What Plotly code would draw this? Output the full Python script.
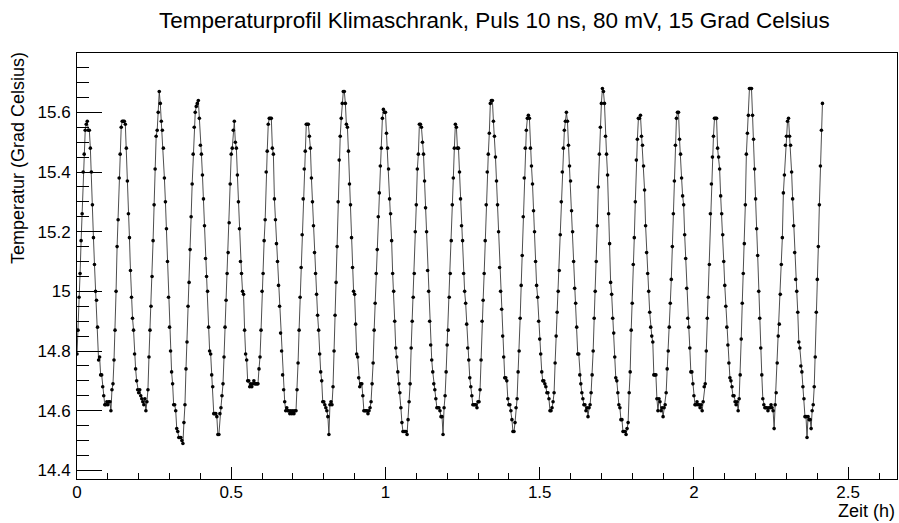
import plotly.graph_objects as go

# Climate chamber temperature log, one reading every 12 s
SAMPLE_STEP_H = 12.0 / 3600.0

temperature_c = [
    14.79, 14.87, 14.98, 15.06, 15.17, 15.26, 15.40, 15.46, 15.54, 15.56,
    15.57, 15.54, 15.54, 15.48, 15.40, 15.29, 15.18, 15.09, 15.00, 14.97,
    14.88, 14.77, 14.78, 14.72, 14.72, 14.68, 14.65, 14.62, 14.62, 14.63,
    14.62, 14.63, 14.63, 14.60, 14.67, 14.69, 14.77, 14.87, 15.00, 15.15,
    15.24, 15.38, 15.46, 15.55, 15.57, 15.57, 15.57, 15.56, 15.48, 15.37,
    15.26, 15.18, 15.07, 14.98, 14.91, 14.87, 14.79, 14.74, 14.70, 14.67,
    14.66, 14.67, 14.65, 14.64, 14.63, 14.62, 14.64, 14.60, 14.63, 14.67,
    14.78, 14.87, 14.95, 15.05, 15.17, 15.29, 15.41, 15.52, 15.54, 15.60,
    15.67, 15.63, 15.57, 15.54, 15.48, 15.38, 15.30, 15.21, 15.10, 14.98,
    14.88, 14.80, 14.73, 14.69, 14.62, 14.62, 14.60, 14.54, 14.53, 14.51,
    14.51, 14.51, 14.50, 14.49, 14.56, 14.62, 14.74, 14.83, 14.95, 15.03,
    15.14, 15.25, 15.36, 15.46, 15.55, 15.60, 15.62, 15.63, 15.64, 15.58,
    15.49, 15.46, 15.39, 15.31, 15.22, 15.11, 15.05, 15.00, 14.88, 14.80,
    14.79, 14.72, 14.68, 14.59, 14.59, 14.59, 14.58, 14.52, 14.52, 14.59,
    14.61, 14.65, 14.69, 14.78, 14.88, 14.97, 15.06, 15.13, 15.23, 15.36,
    15.46, 15.48, 15.54, 15.57, 15.50, 15.48, 15.39, 15.30, 15.21, 15.10,
    15.06, 15.00, 14.99, 14.87, 14.79, 14.77, 14.70, 14.70, 14.68, 14.69,
    14.68, 14.69, 14.70, 14.69, 14.69, 14.69, 14.69, 14.74, 14.78, 14.87,
    15.00, 15.06, 15.17, 15.24, 15.40, 15.47, 15.56, 15.58, 15.58, 15.58,
    15.48, 15.46, 15.31, 15.24, 15.16, 15.10, 15.02, 14.95, 14.86, 14.80,
    14.72, 14.67, 14.63, 14.60, 14.61, 14.60, 14.60, 14.59, 14.60, 14.59,
    14.60, 14.59, 14.60, 14.60, 14.67, 14.76, 14.87, 14.98, 15.08, 15.19,
    15.31, 15.41, 15.47, 15.56, 15.56, 15.56, 15.52, 15.48, 15.38, 15.30,
    15.22, 15.13, 15.06, 14.99, 14.92, 14.87, 14.79, 14.73, 14.70, 14.63,
    14.63, 14.62, 14.61, 14.60, 14.58, 14.52, 14.62, 14.63, 14.62, 14.68,
    14.80, 14.92, 15.03, 15.15, 15.30, 15.44, 15.52, 15.58, 15.63, 15.67,
    15.67, 15.63, 15.56, 15.55, 15.47, 15.36, 15.29, 15.18, 15.08, 15.00,
    14.99, 14.89, 14.79, 14.78, 14.71, 14.68, 14.69, 14.69, 14.65, 14.60,
    14.60, 14.60, 14.60, 14.59, 14.60, 14.61, 14.63, 14.69, 14.76, 14.87,
    14.96, 15.06, 15.14, 15.25, 15.33, 15.42, 15.48, 15.58, 15.61, 15.60,
    15.60, 15.53, 15.48, 15.41, 15.31, 15.26, 15.17, 15.06, 15.00, 14.90,
    14.81, 14.78, 14.73, 14.69, 14.66, 14.61, 14.56, 14.53, 14.53, 14.53,
    14.53, 14.52, 14.57, 14.63, 14.69, 14.81, 14.90, 14.98, 15.06, 15.20,
    15.29, 15.41, 15.46, 15.56, 15.56, 15.55, 15.50, 15.46, 15.37, 15.28,
    15.20, 15.07, 15.00, 14.90, 14.82, 14.77, 14.73, 14.69, 14.67, 14.64,
    14.61, 14.61, 14.61, 14.60, 14.58, 14.58, 14.52, 14.61, 14.65, 14.73,
    14.82, 14.87, 14.98, 15.06, 15.17, 15.29, 15.38, 15.48, 15.56, 15.55,
    15.48, 15.48, 15.40, 15.31, 15.22, 15.17, 15.06, 15.00, 14.96, 14.89,
    14.81, 14.77, 14.71, 14.68, 14.65, 14.62, 14.62, 14.62, 14.62, 14.61,
    14.63, 14.63, 14.67, 14.77, 14.90, 14.97, 15.06, 15.17, 15.29, 15.40,
    15.46, 15.53, 15.63, 15.64, 15.64, 15.57, 15.52, 15.45, 15.37, 15.29,
    15.20, 15.08, 15.00, 14.94, 14.85, 14.78, 14.71, 14.71, 14.70, 14.64,
    14.62, 14.62, 14.60, 14.57, 14.53, 14.53, 14.56, 14.61, 14.64, 14.73,
    14.80, 14.91, 15.02, 15.12, 15.25, 15.38, 15.48, 15.54, 15.58, 15.59,
    15.58, 15.48, 15.42, 15.36, 15.27, 15.20, 15.10, 15.02, 14.98, 14.90,
    14.84, 14.79, 14.73, 14.70, 14.70, 14.69, 14.68, 14.66, 14.66, 14.64,
    14.60, 14.60, 14.61, 14.63, 14.66, 14.76, 14.85, 14.93, 15.00, 15.07,
    15.19, 15.30, 15.40, 15.48, 15.54, 15.57, 15.60, 15.57, 15.49, 15.42,
    15.37, 15.27, 15.20, 15.10, 15.01, 14.96, 14.88, 14.79, 14.79, 14.72,
    14.69, 14.66, 14.64, 14.62, 14.62, 14.60, 14.61, 14.58, 14.61, 14.62,
    14.66, 14.72, 14.80, 14.91, 15.00, 15.10, 15.22, 15.35, 15.46, 15.55,
    15.63, 15.68, 15.67, 15.63, 15.52, 15.46, 15.39, 15.26, 15.16, 15.03,
    14.99, 14.91, 14.86, 14.78, 14.71, 14.70, 14.66, 14.62, 14.61, 14.57,
    14.57, 14.53, 14.53, 14.53, 14.52, 14.54, 14.56, 14.66, 14.73, 14.87,
    14.96, 15.09, 15.18, 15.30, 15.44, 15.51, 15.58, 15.58, 15.59, 15.52,
    15.49, 15.42, 15.34, 15.22, 15.13, 15.06, 15.00, 14.93, 14.88, 14.85,
    14.83, 14.72, 14.72, 14.72, 14.64, 14.60, 14.64, 14.63, 14.60, 14.61,
    14.58, 14.61, 14.62, 14.66, 14.74, 14.80, 14.88, 14.96, 15.04, 15.15,
    15.26, 15.37, 15.49, 15.58, 15.60, 15.60, 15.51, 15.46, 15.38, 15.32,
    15.29, 15.19, 15.11, 15.01, 14.91, 14.88, 14.81, 14.73, 14.73, 14.69,
    14.65, 14.62, 14.62, 14.63, 14.62, 14.62, 14.61, 14.62, 14.60, 14.63,
    14.68, 14.69, 14.80, 14.91, 14.98, 15.09, 15.26, 15.36, 15.45, 15.52,
    15.58, 15.58, 15.58, 15.48, 15.45, 15.41, 15.32, 15.26, 15.19, 15.10,
    15.02, 14.95, 14.88, 14.82, 14.76, 14.71, 14.70, 14.68, 14.65, 14.65,
    14.63, 14.62, 14.63, 14.60, 14.64, 14.72, 14.84, 14.96, 15.06, 15.16,
    15.29, 15.46, 15.53, 15.59, 15.68, 15.68, 15.68, 15.59, 15.51, 15.41,
    15.31, 15.21, 15.12, 15.00, 14.91, 14.81, 14.72, 14.64, 14.62, 14.61,
    14.61, 14.61, 14.60, 14.61, 14.61, 14.62, 14.61, 14.60, 14.54, 14.62,
    14.66, 14.76, 14.85, 14.89, 14.99, 15.09, 15.18, 15.33, 15.39, 15.49,
    15.52, 15.57, 15.58, 15.52, 15.49, 15.40, 15.31, 15.22, 15.13, 15.04,
    15.00, 14.93, 14.83, 14.81, 14.75, 14.73, 14.68, 14.64, 14.58, 14.58,
    14.51, 14.58, 14.57, 14.57, 14.54, 14.60, 14.62, 14.68, 14.78, 14.93,
    15.04, 15.15, 15.29, 15.42, 15.54, 15.63,
]

time_h = [i * SAMPLE_STEP_H for i in range(len(temperature_c))]

title_text = "Temperaturprofil Klimaschrank, Puls 10 ns, 80 mV, 15 Grad Celsius"
x_title = "Zeit (h)"
y_title = "Temperatur (Grad Celsius)"

# axis ranges padded by 10 % of the data span, like the ROOT default
t_max = max(time_h)
y_lo, y_hi = min(temperature_c), max(temperature_c)
pad = 0.1 * (y_hi - y_lo)
x_range = [0.0, 1.1 * t_max]
y_range = [y_lo - pad, y_hi + pad]

FONT = "Liberation Sans, Arial, Helvetica, sans-serif"

fig = go.Figure()
fig.add_trace(go.Scatter(
    x=time_h, y=temperature_c,
    mode="lines+markers",
    line=dict(color="#3a3a3a", width=0.9),
    marker=dict(color="black", size=3.6, symbol="circle", line=dict(width=0)),
    showlegend=False,
    hoverinfo="x+y",
))

W, H = 899, 523
ML, MR, MT, MB = 77, 2, 53, 44
plot_w = W - ML - MR
plot_h = H - MT - MB

fig.update_layout(
    width=W, height=H,
    margin=dict(l=ML, r=MR, t=MT, b=MB, pad=0),
    paper_bgcolor="white", plot_bgcolor="white",
    font=dict(family=FONT, size=17, color="black"),
    showlegend=False,
)

fig.update_xaxes(
    range=x_range, showgrid=False, zeroline=False,
    showline=True, linecolor="black", linewidth=1, mirror=True,
    ticks="inside", ticklen=12, tickwidth=1, tickcolor="black",
    tick0=0, dtick=0.5, ticklabelstandoff=-2,
    tickfont=dict(family=FONT, size=17, color="black"),
    minor=dict(ticks="inside", dtick=0.1, ticklen=6, tickwidth=1,
               tickcolor="black", showgrid=False),
)
fig.update_yaxes(
    range=y_range, showgrid=False, zeroline=False,
    showline=True, linecolor="black", linewidth=1, mirror=True,
    ticks="inside", ticklen=25, tickwidth=1, tickcolor="black",
    tick0=14.4, dtick=0.2, ticklabelstandoff=2,
    tickfont=dict(family=FONT, size=17, color="black"),
    minor=dict(ticks="inside", dtick=0.05, ticklen=12, tickwidth=1,
               tickcolor="black", showgrid=False),
)

fig.add_annotation(
    text=title_text, xref="paper", yref="paper",
    x=(494 - ML) / plot_w, y=1 + (MT - 20) / plot_h,
    xanchor="center", yanchor="middle", showarrow=False,
    font=dict(family=FONT, size=22.5, color="black"),
)
fig.add_annotation(
    text=x_title, xref="paper", yref="paper",
    x=1.0, y=-(511 - (H - MB)) / plot_h,
    xanchor="right", yanchor="middle", showarrow=False,
    font=dict(family=FONT, size=18, color="black"),
)
fig.add_annotation(
    text=y_title, xref="paper", yref="paper", textangle=-90,
    x=(18 - ML) / plot_w, y=1 + (MT - 50) / plot_h,
    xanchor="center", yanchor="top", showarrow=False,
    font=dict(family=FONT, size=18, color="black"),
)

fig.write_html("out.html")
